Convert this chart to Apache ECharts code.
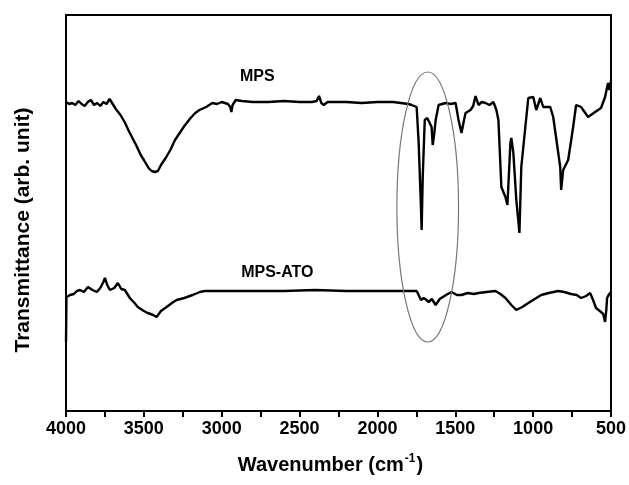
<!DOCTYPE html>
<html><head><meta charset="utf-8">
<script src="https://cdn.jsdelivr.net/npm/echarts@6/dist/echarts.min.js"></script>
<style>html,body{margin:0;padding:0;background:#fff}#c{width:629px;height:485px}</style>
</head><body><div id="c"></div>
<script>
// Wavenumbers (cm^-1) and transmittance (arb. unit)
const mpsX = [4000,3980,3960,3940,3920,3900,3880,3860,3840,3820,3800,3780,3760,3740,3720,3700,3680,3650,3620,3600,3570,3550,3520,3500,3470,3450,3430,3410,3390,3360,3330,3300,3270,3240,3200,3170,3143,3100,3060,3030,3000,2960,2945,2938,2930,2910,2900,2870,2800,2700,2600,2500,2420,2390,2375,2360,2345,2320,2200,2100,2000,1900,1850,1800,1780,1748,1735,1722,1716,1709,1696,1680,1671,1652,1645,1636,1626,1607,1562,1530,1498,1479,1460,1445,1434,1402,1385,1370,1351,1330,1306,1280,1255,1236,1223,1204,1178,1165,1146,1140,1127,1108,1088,1076,1050,1031,999,980,954,935,890,871,826,820,807,775,743,724,692,647,602,564,538,519,510,506,500];
const mpsY = [309,307,308,306,310,307,305,309,311,306,308,305,309,307,312,307,302,296,288,281,272,266,256,251,243,240,239,240,246,253,261,271,278,285,293,298,301,304,308,307,309,307,304,299,306,311,313,310,309,309,310,309,309,310,315,308,306,309,309,308,309,309,308,307,306,304,268,211,181,234,291,293,294,284,266,276,291,306,308,307,308,291,278,290,298,301,305,315,306,309,308,306,309,301,291,224,214,206,268,273,258,211,178,244,284,313,314,301,313,304,304,294,244,221,241,251,284,306,304,294,299,303,314,328,321,325,330];
const atoX = [4000,3997,3974,3950,3930,3910,3885,3859,3830,3802,3780,3760,3750,3735,3718,3690,3667,3645,3622,3590,3560,3539,3500,3475,3440,3418,3390,3354,3320,3290,3240,3187,3140,3110,3000,2800,2600,2400,2200,2000,1800,1748,1720,1703,1685,1671,1650,1626,1600,1588,1560,1524,1490,1460,1420,1380,1351,1300,1242,1210,1178,1140,1108,1070,1031,990,948,900,839,800,756,720,692,660,634,615,596,564,550,538,530,525,515,506,500];
const atoY = [69,114,116,117,120,121,119,124,121,119,123,129,133,126,121,123,128,122,121,113,108,104,100,98,96,94,100,104,108,111,113,116,119,120,120,120,120,121,120,120,120,120,111,113,111,109,112,106,112,114,116,119,116,116,118,117,118,119,120,117,113,106,101,104,108,112,116,118,120,119,117,116,113,115,118,111,103,99,97,89,101,113,116,118,119];
const seriesNames = ['MPS','MPS-ATO'];
const labelPos = [[2771,334],[2643,138]];
const xTicks = [4000,3500,3000,2500,2000,1500,1000,500];
// highlighted region (ellipse) centre and half-axes in data units
const ellipseC = [1677,204];
const ellipseR = [198,135];

const chart = echarts.init(document.getElementById('c'), null, {renderer:'canvas'});
const FONT = 'Liberation Sans, Arial, sans-serif';
const zip = (xs, ys) => xs.map((x,i)=>[x, ys[i]]);
chart.setOption({
  animation:false,
  backgroundColor:'#fff',
  grid:{left:66,right:14,top:15,bottom:74,show:true,borderColor:'#000',borderWidth:2},
  xAxis:{type:'value',inverse:true,min:500,max:4000,interval:500,
    name:'{a|Wavenumber (cm}{b|-1}{a|)}',nameLocation:'middle',nameGap:42,
    nameTextStyle:{padding:[0,16,0,0],rich:{a:{fontFamily:FONT,fontWeight:'bold',fontSize:20,color:'#000'},b:{fontFamily:FONT,fontWeight:'bold',fontSize:12,color:'#000',verticalAlign:'top',padding:[0,1,12,1]}}},
    axisLine:{lineStyle:{color:'#000',width:2}},
    axisTick:{inside:false,length:6,lineStyle:{color:'#000',width:2}},
    minorTick:{show:true,splitNumber:2,length:6,lineStyle:{color:'#000',width:2}},
    axisLabel:{fontFamily:FONT,fontWeight:'bold',fontSize:18,color:'#000',margin:9,
      formatter:v=>xTicks.includes(v)?String(v):''},
    splitLine:{show:false}},
  yAxis:{type:'value',min:0,max:396,
    axisLine:{show:true,lineStyle:{color:'#000',width:2}},axisTick:{show:false},axisLabel:{show:false},splitLine:{show:false}},
  series:[
    {name:seriesNames[0],type:'line',data:zip(mpsX,mpsY),symbol:'none',lineStyle:{color:'#000',width:2.4},z:3},
    {name:seriesNames[1],type:'line',data:zip(atoX,atoY),symbol:'none',lineStyle:{color:'#000',width:2.4},z:3}
  ]
});
const c = chart.convertToPixel({gridIndex:0}, ellipseC);
const e1 = chart.convertToPixel({gridIndex:0}, [ellipseC[0]-ellipseR[0], ellipseC[1]+ellipseR[1]]);
const graphics = [
  {type:'ellipse',shape:{cx:c[0],cy:c[1],rx:Math.abs(e1[0]-c[0]),ry:Math.abs(c[1]-e1[1])},style:{fill:null,stroke:'#777',lineWidth:1.2},z:10},
  {type:'text',x:23,y:230,rotation:Math.PI/2,style:{text:'Transmittance (arb. unit)',fontFamily:FONT,fontWeight:'bold',fontSize:21,fill:'#000',align:'center',verticalAlign:'middle'},z:10}
];
labelPos.forEach((p,i)=>{
  const q = chart.convertToPixel({gridIndex:0}, p);
  graphics.push({type:'text',x:q[0],y:q[1],style:{text:seriesNames[i],fontFamily:FONT,fontWeight:'bold',fontSize:16,fill:'#000',align:'center',verticalAlign:'middle'},z:10});
});
chart.setOption({graphic:graphics});
</script></body></html>
